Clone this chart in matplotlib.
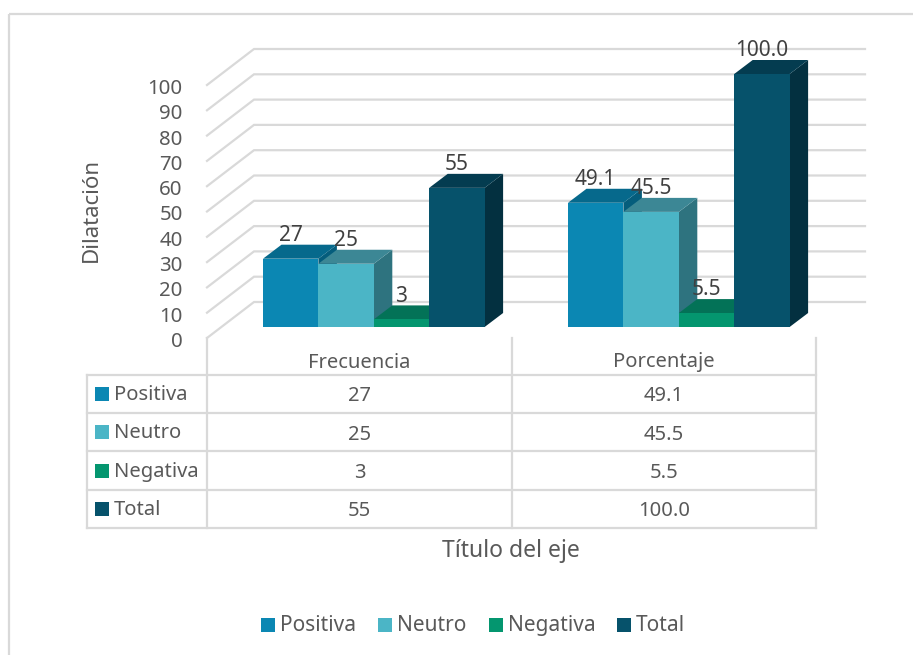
import numpy as np
import matplotlib
matplotlib.use('Agg')
import matplotlib.pyplot as plt
from matplotlib.patches import Polygon, Rectangle
from matplotlib.transforms import ScaledTranslation

categories = ['Frecuencia', 'Porcentaje']
series_names = ['Positiva', 'Neutro', 'Negativa', 'Total']
positiva = [27, 49.1]
neutro = [25, 45.5]
negativa = [3, 5.5]
total = [55, 100.0]
table_text = [['27', '49.1'], ['25', '45.5'], ['3', '5.5'], ['55', '100.0']]
bar_labels = [['27', '25', '3', '55'], ['49.1', '45.5', '5.5', '100.0']]
yticks = list(range(0, 101, 10))

front_cols = ['#0b87b3', '#4bb5c6', '#04966f', '#06526b']
top_cols = ['#06698c', '#3c8795', '#037257', '#043c50']
side_cols = ['#055d7c', '#2e737f', '#025c46', '#033040']
grid_col = '#d9d9d9'
text_col = '#595959'
label_col = '#404040'

W, H = 913, 655
plt.rcParams['font.family'] = ['Noto Sans', 'DejaVu Sans']
fig = plt.figure(figsize=(W / 100, H / 100), dpi=100, facecolor='white')

# overlay in pixels for the frame, table and legend
pg = fig.add_axes([0, 0, 1, 1])
pg.set_xlim(0, W)
pg.set_ylim(H, 0)
pg.axis('off')

# main axes sits on the front plane: 207-816 px wide, value 0 at 338, 100 at 85
x0, x1, y0, y100 = 207, 816, 338, 85
ax = fig.add_axes([x0 / W, 1 - y0 / H, (x1 - x0) / W, (y0 - y100) / H])
ax.patch.set_alpha(0)
ax.set_xlim(0, 2)
ax.set_ylim(0, 100)
for s in ax.spines.values():
    s.set_visible(False)
ax.set_xticks([])
ax.set_yticks(yticks)
ax.tick_params(axis='y', length=0, pad=17.5, labelsize=14.7, labelcolor=text_col)
for lab in ax.get_yticklabels():
    lab.set_transform(lab.get_transform() + ScaledTranslation(0, -1.5 / 100, fig.dpi_scale_trans))
ax.set_ylabel('Dilatación', fontsize=16, color=text_col)
ax.yaxis.set_label_coords((102 - x0) / (x1 - x0), 0.505)

px = 2 / (x1 - x0)
py = 100 / (y0 - y100)

# wall gridlines, perspective part then the back part
wall_dx, wall_dy = 47 * px, 36 * py
right = (865 - x0) * px
for v in yticks:
    ax.plot([0, wall_dx, right], [v, v + wall_dy, v + wall_dy], color=grid_col, lw=1.6,
            clip_on=False, zorder=1, solid_joinstyle='miter')

# bars
depth_x, depth_y = 18.5 * px, 14 * py
base = 11 * py
bar_w = 55.4 * px
starts = [(263 - x0) * px, (568 - x0) * px]
values = [positiva, neutro, negativa, total]
for c in range(2):
    for i in range(4):
        v = values[i][c]
        left = starts[c] + i * bar_w
        z = 3 + i * 0.1
        top = base + v
        ax.add_patch(Polygon([(left + bar_w, base), (left + bar_w + depth_x, base + depth_y),
                              (left + bar_w + depth_x, top + depth_y), (left + bar_w, top)],
                             fc=side_cols[i], ec='none', clip_on=False, zorder=z))
        ax.add_patch(Polygon([(left, top), (left + depth_x, top + depth_y),
                              (left + bar_w + depth_x, top + depth_y), (left + bar_w, top)],
                             fc=top_cols[i], ec='none', clip_on=False, zorder=z))
        ax.add_patch(Rectangle((left, base), bar_w, v, fc=front_cols[i], ec='none',
                               clip_on=False, zorder=z + 0.05))
        ax.text(left + bar_w / 2, top + depth_y + 3.7 * py, bar_labels[c][i], ha='center', va='baseline',
                fontsize=15, color=label_col, zorder=6)

# frame of the chart area, right and bottom edges fall outside the picture
pg.add_patch(Rectangle((9, 14), W + 20, H + 20, fc='none', ec='#d9d9d9', lw=1.6, clip_on=True))

# data table
rows = [374.5, 413, 451, 490, 528]
col_x = [86.5, 207, 512, 816]
for y in rows:
    pg.plot([col_x[0], col_x[-1]], [y, y], color=grid_col, lw=1.6)
pg.plot([col_x[0], col_x[0]], [rows[0], rows[-1]], color=grid_col, lw=1.6)
for x in col_x[1:]:
    pg.plot([x, x], [338, rows[-1]], color=grid_col, lw=1.6)
for c, name in enumerate(categories):
    pg.text((col_x[c + 1] + col_x[c + 2]) / 2, 367.5, name, ha='center', va='baseline', fontsize=14.5, color=text_col)
for r, name in enumerate(series_names):
    ym = (rows[r] + rows[r + 1]) / 2
    pg.add_patch(Rectangle((95, ym - 7), 14, 14, fc=front_cols[r], ec='none'))
    pg.text(114, ym + 6, name, ha='left', va='baseline', fontsize=14.5, color=text_col)
    for c in range(2):
        pg.text((col_x[c + 1] + col_x[c + 2]) / 2, ym + 7.5, table_text[r][c], ha='center', va='baseline',
                fontsize=14.5, color=text_col)

pg.text(511, 557, 'Título del eje', ha='center', va='baseline', fontsize=16.5, color=text_col)

# legend
legend_x = [261, 378, 489, 617]
for x, name, col in zip(legend_x, series_names, front_cols):
    pg.add_patch(Rectangle((x, 618), 14, 14, fc=col, ec='none'))
    pg.text(x + 19, 631, name, ha='left', va='baseline', fontsize=15, color=text_col)

fig.savefig('out.png', dpi=100)
